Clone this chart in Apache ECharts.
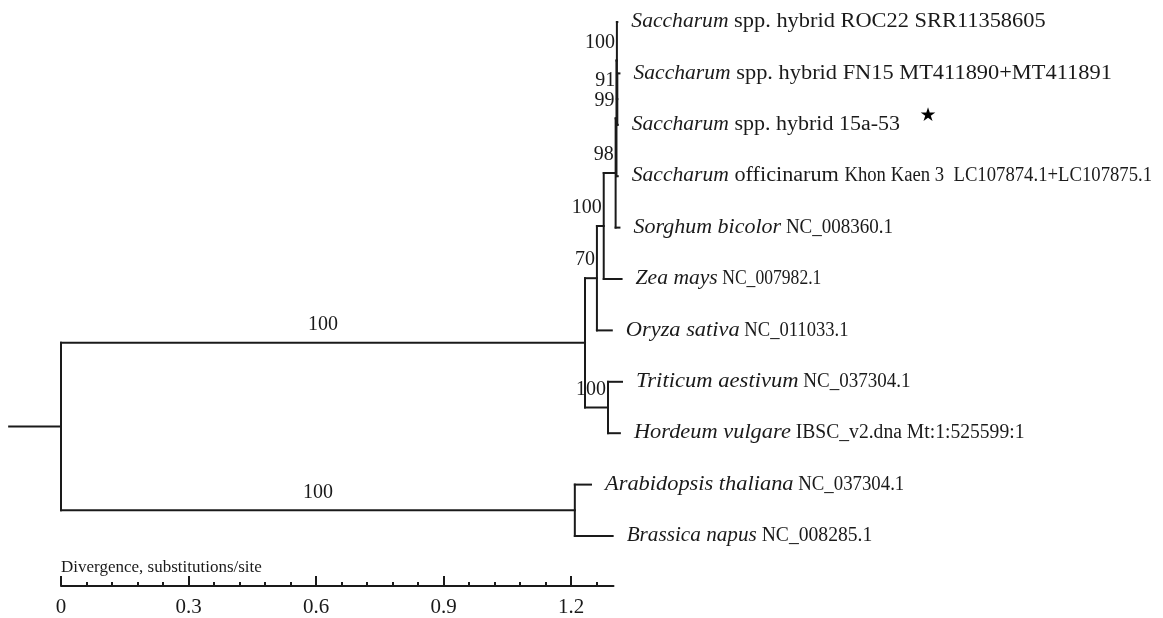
<!DOCTYPE html>
<html>
<head>
<meta charset="utf-8">
<script src="https://cdn.jsdelivr.net/npm/echarts@6/dist/echarts.min.js"></script>
<style>
html,body{margin:0;padding:0;background:#fff}
#chart{width:1163px;height:618px}
</style>
</head>
<body>
<div id="chart"></div>
<script>
// ---------------- DATA ----------------
// Leaves, top to bottom
const LEAF_ITALIC = ['Saccharum','Saccharum','Saccharum','Saccharum','Sorghum bicolor','Zea mays','Oryza sativa','Triticum aestivum','Hordeum vulgare','Arabidopsis thaliana','Brassica napus'];
const LEAF_REST = [' spp. hybrid ROC22 SRR11358605',' spp. hybrid FN15 MT411890+MT411891',' spp. hybrid 15a-53',' officinarum ',' NC_008360.1',' NC_007982.1',' NC_011033.1',' NC_037304.1',' IBSC_v2.dna Mt:1:525599:1',' NC_037304.1',' NC_008285.1'];
const LEAF_TAIL = ['','','','Khon Kaen 3  LC107874.1+LC107875.1','','','','','','',''];
const LEAF_PARENT = ['X','Y','Y','D3','C','B','A','T','T','Dc','Dc'];
const LEAF_BRANCH = [0.001,0.005,0.001,0.003,0.009,0.042,0.035,0.033,0.028,0.038,0.089];
// Internal nodes (parents listed before children)
const NODE_ID      = ['R','M','Dc','A','T','B','C','D3','X','Y'];
const NODE_PARENT  = [null,'R','R','M','M','A','B','C','D3','X'];
const NODE_BRANCH  = [0.122,1.233,1.209,0.028,0.054,0.016,0.028,0.002,0.001,0.001];
const NODE_SUPPORT = ['','100','100','70','100','100','98','99','100','91'];
const MARKED_LEAVES = [2];
// Scale bar
const MAJOR_TICKS = [0,0.3,0.6,0.9,1.2];
const MINOR_TICKS = [0.06,0.12,0.18,0.24,0.36,0.42,0.48,0.54,0.66,0.72,0.78,0.84,0.96,1.02,1.08,1.14,1.26];
const AXIS_TITLE = 'Divergence, substitutions/site';

// ---------------- STYLE ----------------
const FONT = 'Liberation Serif';
const INK = '#1a1a1a';
const LABEL_SIZE = 20;
// horizontal stretch of the label glyphs, as seen in the figure
const ITALIC_STRETCH = [1.08,1.08,1.08,1.08,1.10,1.08,1.12,1.13,1.12,1.12,1.06];
const PLAIN_STRETCH  = [1.12,1.12,1.10,1.11,0.95,0.88,0.93,0.95,0.98,0.94,0.98];
const TAIL_STRETCH = 0.935;

// ---------------- LAYOUT ----------------
const nodes = {};
NODE_ID.forEach((id, i) => {
  nodes[id] = {id, parent: NODE_PARENT[i], len: NODE_BRANCH[i], support: NODE_SUPPORT[i], children: [], leaf: false};
});
LEAF_ITALIC.forEach((name, i) => {
  nodes['L' + i] = {id: 'L' + i, parent: LEAF_PARENT[i], len: LEAF_BRANCH[i], support: '', children: [], leaf: true, row: i};
});
const order = NODE_ID.concat(LEAF_ITALIC.map((_, i) => 'L' + i));
order.forEach(id => {
  const n = nodes[id];
  if (n.parent) { nodes[n.parent].children.push(id); }
});
order.forEach(id => {
  const n = nodes[id];
  if (!n.parent) { n.x = 0; n.x0 = -n.len; }
  else { n.x0 = nodes[n.parent].x; n.x = n.x0 + n.len; }
});
function layY(id) {
  const n = nodes[id];
  if (n.leaf) { n.y = n.row; return n.y; }
  const ys = n.children.map(layY);
  n.yMin = Math.min.apply(null, ys);
  n.yMax = Math.max.apply(null, ys);
  n.y = (n.yMin + n.yMax) / 2;
  return n.y;
}
layY('R');
const items = order.map(id => nodes[id]);

const measureCtx = document.createElement('canvas').getContext('2d');
function textWidth(str, italic) {
  measureCtx.font = (italic ? 'italic ' : '') + LABEL_SIZE + 'px "' + FONT + '"';
  return measureCtx.measureText(str).width;
}
function seg(text, x, y, italic, stretch) {
  return {
    type: 'text',
    x: x, y: y, scaleX: stretch, scaleY: 1,
    style: {
      text: text, x: 0, y: 0, align: 'left', verticalAlign: 'middle',
      fontFamily: FONT, fontSize: LABEL_SIZE, fontStyle: italic ? 'italic' : 'normal', fill: INK
    }
  };
}

function renderItem(params, api) {
  const n = items[params.dataIndex];
  const p0 = api.coord([n.x0, n.y]);
  const p1 = api.coord([n.x, n.y]);
  const lineStyle = {stroke: INK, lineWidth: 2, lineCap: 'square'};
  const children = [{
    type: 'line', shape: {x1: p0[0], y1: p0[1], x2: p1[0], y2: p1[1]}, style: lineStyle
  }];
  if (!n.leaf) {
    const a = api.coord([n.x, n.yMin]);
    const b = api.coord([n.x, n.yMax]);
    children.push({type: 'line', shape: {x1: a[0], y1: a[1], x2: b[0], y2: b[1]}, style: lineStyle});
    if (n.support) {
      const mid = (n.x - n.x0) > 0.5;
      children.push({
        type: 'text',
        style: {
          text: n.support,
          x: mid ? (p0[0] + p1[0]) / 2 : p1[0] - 2,
          y: p1[1] - 18,
          align: mid ? 'center' : 'right',
          verticalAlign: 'middle',
          fontFamily: FONT, fontSize: 20, fill: INK
        },
        z2: 5
      });
    }
  } else {
    const r = n.row;
    let lx = p1[0] + 14;
    const ly = p1[1];
    children.push(seg(LEAF_ITALIC[r], lx, ly, true, ITALIC_STRETCH[r]));
    lx += textWidth(LEAF_ITALIC[r], true) * ITALIC_STRETCH[r];
    children.push(seg(LEAF_REST[r], lx, ly, false, PLAIN_STRETCH[r]));
    lx += textWidth(LEAF_REST[r], false) * PLAIN_STRETCH[r];
    if (LEAF_TAIL[r]) {
      children.push(seg(LEAF_TAIL[r], lx, ly, false, TAIL_STRETCH));
      lx += textWidth(LEAF_TAIL[r], false) * TAIL_STRETCH;
    }
    if (MARKED_LEAVES.indexOf(r) >= 0) {
      children.push({
        type: 'text',
        style: {
          text: '\u2605', x: lx + 28, y: ly - 9,
          align: 'center', verticalAlign: 'middle',
          fontFamily: 'DejaVu Sans', fontSize: 19, fill: '#000'
        }
      });
    }
  }
  return {type: 'group', children: children};
}

const gridBox = {left: 61, right: 549.5, top: 22, bottom: 81, containLabel: false};
const chart = echarts.init(document.getElementById('chart'), null, {renderer: 'canvas'});
chart.setOption({
  backgroundColor: '#fff',
  animation: false,
  title: {
    text: AXIS_TITLE, left: 61, top: 559, padding: 0,
    textStyle: {fontFamily: FONT, fontSize: 17, fontWeight: 'normal', color: INK}
  },
  grid: [Object.assign({}, gridBox), Object.assign({}, gridBox)],
  xAxis: [{
    gridIndex: 0, type: 'value', min: 0, max: 1.3, position: 'bottom', offset: 50,
    splitLine: {show: false},
    axisLine: {show: true, onZero: false, lineStyle: {color: INK, width: 2}},
    axisTick: {show: true, inside: true, length: 10, lineStyle: {color: INK, width: 2}, customValues: MAJOR_TICKS},
    axisLabel: {show: true, customValues: MAJOR_TICKS, margin: 11, fontFamily: FONT, fontSize: 21, color: INK,
      formatter: v => String(v)}
  }, {
    gridIndex: 1, type: 'value', min: 0, max: 1.3, position: 'bottom', offset: 50,
    splitLine: {show: false},
    axisLine: {show: false, onZero: false},
    axisTick: {show: true, inside: true, length: 5, lineStyle: {color: INK, width: 2}, customValues: MINOR_TICKS},
    axisLabel: {show: false}
  }],
  yAxis: [
    {gridIndex: 0, type: 'value', min: 0, max: 10, inverse: true, show: false},
    {gridIndex: 1, type: 'value', min: 0, max: 10, inverse: true, show: false}
  ],
  series: [{
    type: 'custom',
    xAxisIndex: 0, yAxisIndex: 0,
    clip: false,
    renderItem: renderItem,
    encode: {x: 0, y: 1},
    data: items.map(n => [n.x, n.y]),
    silent: true
  }]
});
</script>
</body>
</html>
